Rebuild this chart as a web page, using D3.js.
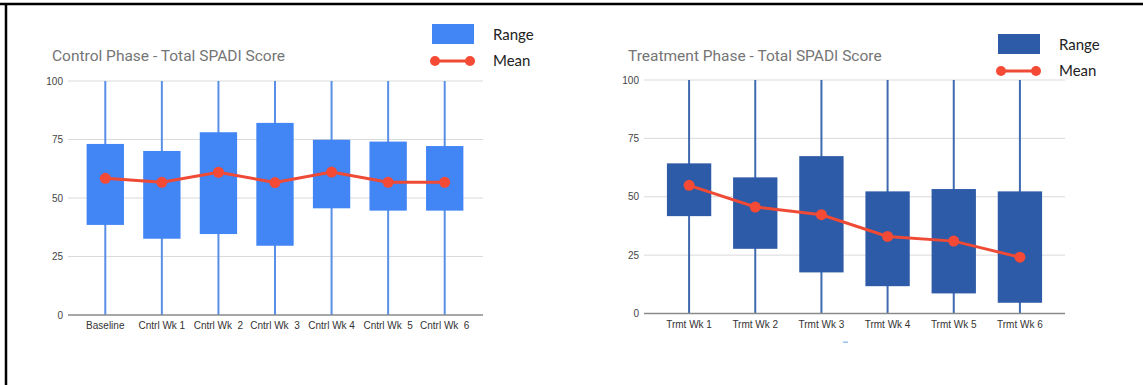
<!DOCTYPE html>
<html><head><meta charset="utf-8">
<script src="https://cdn.jsdelivr.net/npm/d3@7"></script>
<style>body{margin:0;background:#fff;}svg{display:block;}</style>
</head><body>
<svg id="c" width="1143" height="385"></svg>
<script>
const ctrlCats = ["Baseline","Cntrl Wk 1","Cntrl Wk  2","Cntrl Wk  3","Cntrl Wk 4","Cntrl Wk  5","Cntrl Wk  6"];
const ctrlMin  = [0,0,0,0,0,0,0];
const ctrlMax  = [100,100,100,100,100,100,100];
const ctrlLow  = [38.5,32.6,34.6,29.6,45.6,44.6,44.6];
const ctrlHigh = [73.1,70.1,78.1,82.1,74.9,74.1,72.2];
const ctrlMean = [58.4,56.7,61.0,56.6,61.1,56.7,56.7];

const trmtCats = ["Trmt Wk 1","Trmt Wk 2","Trmt Wk 3","Trmt Wk 4","Trmt Wk 5","Trmt Wk 6"];
const trmtMin  = [0,0,0,0,0,0];
const trmtMax  = [100,100,100,100,100,100];
const trmtLow  = [41.7,27.7,17.6,11.7,8.6,4.6];
const trmtHigh = [64.3,58.3,67.4,52.3,53.3,52.3];
const trmtMean = [54.9,45.6,42.3,33.0,31.0,24.1];

const yTicks = [0,25,50,75,100];

const svg = d3.select("#c");
// frame
svg.append("line").attr("x1",0).attr("x2",1143).attr("y1",4).attr("y2",4).attr("stroke","#000").attr("stroke-width",2.5);
svg.append("line").attr("x1",6).attr("x2",6).attr("y1",3).attr("y2",385).attr("stroke","#000").attr("stroke-width",2.5);

function chart(o){
  const g = svg.append("g");
  const y = d3.scaleLinear().domain([0,100]).range([o.y0,o.y100]);
  const x = d3.scalePoint().domain(o.cats).range(o.xr).padding(0.5);
  const bw = x.step()*o.bwf;
  // title
  g.append("text").attr("x",o.titleX).attr("y",o.titleY).text(o.title)
    .attr("font-family","Roboto, Arial, sans-serif").attr("font-size",15.5).attr("fill","#757575");
  // gridlines
  g.selectAll(".gl").data(yTicks.filter(d=>d>0)).join("line")
    .attr("x1",o.gx[0]).attr("x2",o.gx[1]).attr("y1",d=>y(d)).attr("y2",d=>y(d))
    .attr("stroke","#dadada").attr("stroke-width",1);
  // y tick labels
  g.selectAll(".yl").data(yTicks).join("text")
    .attr("x",o.gx[0]-5).attr("y",d=>y(d)+3.5).attr("text-anchor","end").text(d=>d)
    .attr("font-family","Liberation Sans, Arial, sans-serif").attr("font-size",10).attr("fill","#444");
  // whiskers
  g.selectAll(".wh").data(o.cats).join("line")
    .attr("x1",d=>x(d)).attr("x2",d=>x(d))
    .attr("y1",(d,i)=>y(o.min[i])).attr("y2",(d,i)=>y(o.max[i]))
    .attr("stroke",o.wcol).attr("stroke-width",2);
  // boxes
  g.selectAll(".bx").data(o.cats).join("rect")
    .attr("x",d=>x(d)-bw/2).attr("width",bw)
    .attr("y",(d,i)=>y(o.high[i])).attr("height",(d,i)=>y(o.low[i])-y(o.high[i]))
    .attr("fill",o.col);
  // baseline axis
  g.append("line").attr("x1",o.gx[0]).attr("x2",o.gx[1]).attr("y1",y(0)).attr("y2",y(0))
    .attr("stroke","#8a8a8a").attr("stroke-width",1.5);
  // x labels
  g.selectAll(".xl").data(o.cats).join("text")
    .attr("x",d=>x(d)).attr("y",o.y0+14).attr("text-anchor","middle")
    .style("white-space","pre").text(d=>d)
    .attr("font-family","Liberation Sans, Arial, sans-serif").attr("font-size",10).attr("fill","#333");
  // mean line
  const line = d3.line().x((d,i)=>x(o.cats[i])).y(d=>y(d));
  g.append("path").datum(o.mean).attr("d",line).attr("fill","none")
    .attr("stroke","#ef4a35").attr("stroke-width",3);
  g.selectAll(".mp").data(o.mean).join("circle")
    .attr("cx",(d,i)=>x(o.cats[i])).attr("cy",d=>y(d)).attr("r",5.5).attr("fill","#f44a36");
  // legend
  const L = o.leg;
  g.append("rect").attr("x",L.x).attr("y",L.y).attr("width",42).attr("height",20).attr("fill",o.col);
  g.append("text").attr("x",L.x+61).attr("y",L.y+16).text("Range")
    .attr("font-family","Lato, sans-serif").attr("font-size",15).attr("fill","#222");
  g.append("line").attr("x1",L.x+3).attr("x2",L.x+38).attr("y1",L.y+37).attr("y2",L.y+37)
    .attr("stroke","#ef4a35").attr("stroke-width",3);
  g.selectAll(".lc").data([L.x+3,L.x+38]).join("circle").attr("cx",d=>d).attr("cy",L.y+37).attr("r",5).attr("fill","#f44a36");
  g.append("text").attr("x",L.x+61).attr("y",L.y+42).text("Mean")
    .attr("font-family","Lato, sans-serif").attr("font-size",15).attr("fill","#222");
}

chart({cats:ctrlCats,min:ctrlMin,max:ctrlMax,low:ctrlLow,high:ctrlHigh,mean:ctrlMean,
  y0:315,y100:81,xr:[77,473],gx:[68,483],bwf:0.66,col:"#4285f4",wcol:"#5a8fe8",
  title:"Control Phase - Total SPADI Score",titleX:52,titleY:61,leg:{x:432,y:24}});
chart({cats:trmtCats,min:trmtMin,max:trmtMax,low:trmtLow,high:trmtHigh,mean:trmtMean,
  y0:313.5,y100:80,xr:[656,1053],gx:[644,1065],bwf:0.67,col:"#2e5ba7",wcol:"#3f69b0",
  title:"Treatment Phase - Total SPADI Score",titleX:628,titleY:61,leg:{x:998,y:34}});
// small stray mark below treatment chart
svg.append("rect").attr("x",843).attr("y",341.5).attr("width",5).attr("height",1.5).attr("fill","#9cc0e8");
</script>
</body></html>
